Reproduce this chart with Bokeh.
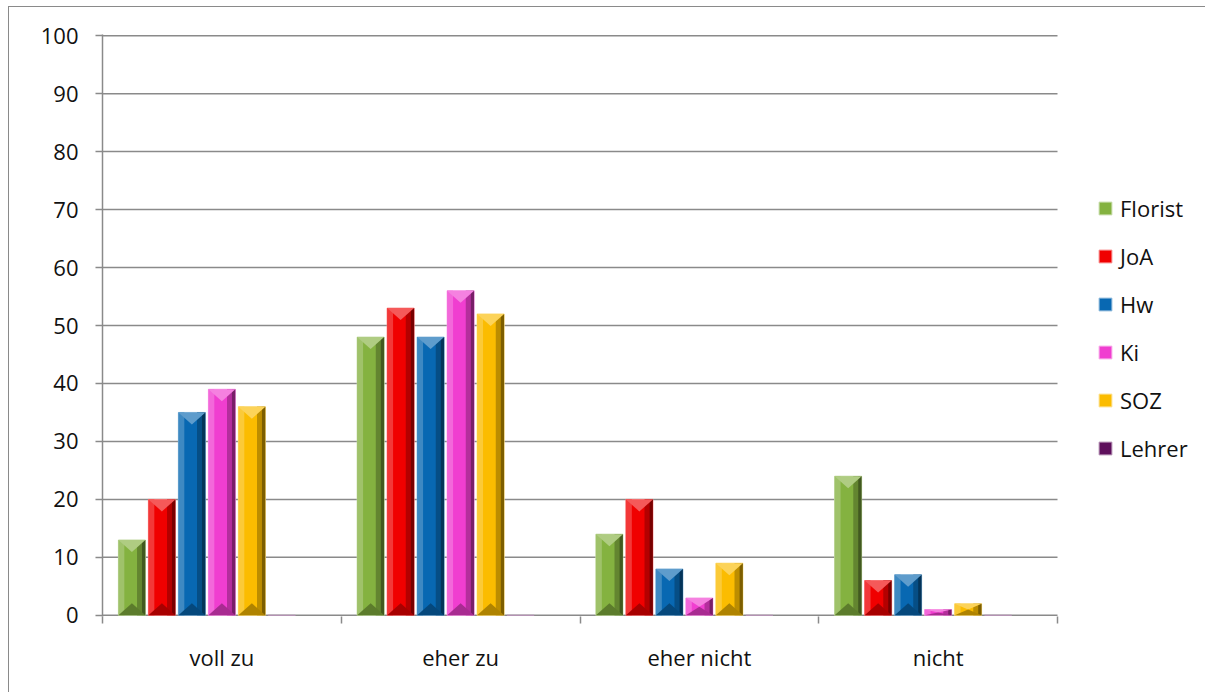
import numpy as np
from bokeh.plotting import figure
from bokeh.models import Range1d, FixedTicker, Legend, LegendItem, ColumnDataSource
from bokeh.embed import file_html
from bokeh.resources import INLINE

# ---------------- data ----------------
categories = ["voll zu", "eher zu", "eher nicht", "nicht"]
series = ["Florist", "JoA", "Hw", "Ki", "SOZ", "Lehrer"]
florist = [13, 48, 14, 24]
joa = [20, 53, 20, 6]
hw = [35, 48, 8, 7]
ki = [39, 56, 3, 1]
soz = [36, 52, 9, 2]
lehrer = [0, 0, 0, 0]
values = [florist, joa, hw, ki, soz, lehrer]
colors = ["#84B240", "#F00000", "#0868B2", "#F03ED0", "#FBBC00", "#5E0F5C"]
y_ticks = list(range(0, 101, 10))

# ---------------- style helpers ----------------
def mix(hexc, f):
    h = hexc.lstrip("#")
    r, g, b = [int(h[i:i + 2], 16) for i in (0, 2, 4)]
    if f >= 0:
        r, g, b = [int(c + (255 - c) * f) for c in (r, g, b)]
    else:
        r, g, b = [int(c * (1 + f)) for c in (r, g, b)]
    return "#%02x%02x%02x" % (r, g, b)

FONT = "Open Sans"
FS = "22px"
GRID = "#8a8a8a"
n_cat = len(categories)
n_slots = 7                      # Excel reserves 7 slots per group
slot = 1.0 / (n_slots + 0.96)
bw = slot * 0.9
plot_w = 955                     # pixel width of the category area
legend_w = 148                   # extra room to the right for the legend
frame_w = plot_w + legend_w
frame_h = 582
pad_y = 0.2
x_end = n_cat * frame_w / plot_w
bevel = 12 / (frame_h / (100 + 2 * pad_y))  # bevel depth in data units

p = figure(frame_width=frame_w, frame_height=frame_h,
           x_range=Range1d(0, x_end), y_range=Range1d(-pad_y, 100 + pad_y),
           output_backend="svg", toolbar_location=None,
           min_border_left=93, min_border_top=27, min_border_bottom=76,
           min_border_right=0)
p.outline_line_color = None
p.background_fill_color = "white"
p.border_fill_color = "white"
p.styles = {"border-left": "1px solid #8a8a8a", "border-top": "1px solid #8a8a8a",
            "margin-left": "8px", "margin-top": "6px"}

# horizontal gridlines only across the category area
p.segment(x0=0, x1=n_cat, y0=y_ticks, y1=y_ticks, line_color=GRID, line_width=1.5)

legend_items = []
for i, (name, vals, col) in enumerate(zip(series, values, colors)):
    xs = np.arange(n_cat) + 0.5 + (i - (n_slots - 1) / 2) * slot
    v = np.array(vals, dtype=float)
    src = ColumnDataSource(dict(x=xs, top=v))
    base = p.vbar(x="x", top="top", bottom=0, width=bw, source=src, fill_color=col,
                  line_color=mix(col, 0.55), line_width=1)
    legend_items.append(LegendItem(label=name, renderers=[base]))
    mask = v > 0
    if not mask.any():
        continue
    xm, vm = xs[mask], v[mask]
    bb = np.minimum(bevel, vm / 2.0)
    # side shading strips
    p.vbar(x=xm - bw / 2 + bw * 0.11, top=vm, bottom=0, width=bw * 0.22,
           fill_color=mix(col, 0.22), line_color=None)
    p.vbar(x=xm + bw / 2 - bw * 0.22, top=vm, bottom=0, width=bw * 0.18,
           fill_color=mix(col, -0.25), line_color=None)
    p.vbar(x=xm + bw / 2 - bw * 0.065, top=vm, bottom=0, width=bw * 0.13,
           fill_color=mix(col, -0.5), line_color=None)
    # top chevron (light) and bottom chevron (dark)
    top_xs = [[a - bw / 2, a + bw / 2, a] for a in xm]
    top_ys = [[t, t, t - d] for t, d in zip(vm, bb)]
    p.patches(top_xs, top_ys, fill_color=mix(col, 0.35), line_color=None)
    bot_xs = [[a - bw / 2, a + bw / 2, a] for a in xm]
    bot_ys = [[0, 0, d] for d in bb]
    p.patches(bot_xs, bot_ys, fill_color=mix(col, -0.3), line_color=None)

# ---------------- axes ----------------
p.yaxis.ticker = FixedTicker(ticks=y_ticks)
p.yaxis.major_tick_out = 7
p.yaxis.major_tick_in = 0
p.yaxis.minor_tick_line_color = None
p.yaxis.axis_line_color = GRID
p.yaxis.axis_line_width = 1.5
p.yaxis.major_tick_line_color = GRID
p.yaxis.major_tick_line_width = 1.5
p.yaxis.major_label_text_font = FONT
p.yaxis.major_label_text_font_size = FS
p.yaxis.major_label_text_color = "#111111"
p.yaxis.major_label_standoff = 17

p.xaxis.ticker = FixedTicker(ticks=[k + 0.5 for k in range(n_cat)],
                             minor_ticks=list(range(n_cat + 1)))
p.xaxis.major_label_overrides = {k + 0.5: c for k, c in enumerate(categories)}
p.xaxis.major_tick_out = 0
p.xaxis.major_tick_in = 0
p.xaxis.minor_tick_out = 7
p.xaxis.minor_tick_in = 0
p.xaxis.minor_tick_line_color = GRID
p.xaxis.minor_tick_line_width = 1.5
p.xaxis.axis_line_color = None
p.xaxis.major_label_text_font = FONT
p.xaxis.major_label_text_font_size = FS
p.xaxis.major_label_text_color = "#111111"
p.xaxis.major_label_standoff = 18

p.xgrid.visible = False
p.ygrid.visible = False

# ---------------- legend (right of the category area) ----------------
legend = Legend(items=legend_items, location=(995, 153))
legend.border_line_color = None
legend.background_fill_alpha = 0
legend.padding = 10
legend.margin = 0
legend.glyph_width = 16
legend.glyph_height = 16
legend.label_height = 28
legend.spacing = 18
legend.label_standoff = 7
legend.label_text_font = FONT
legend.label_text_font_size = FS
legend.label_text_color = "#111111"
p.add_layout(legend)

open("out.html", "w").write(file_html(p, INLINE))
